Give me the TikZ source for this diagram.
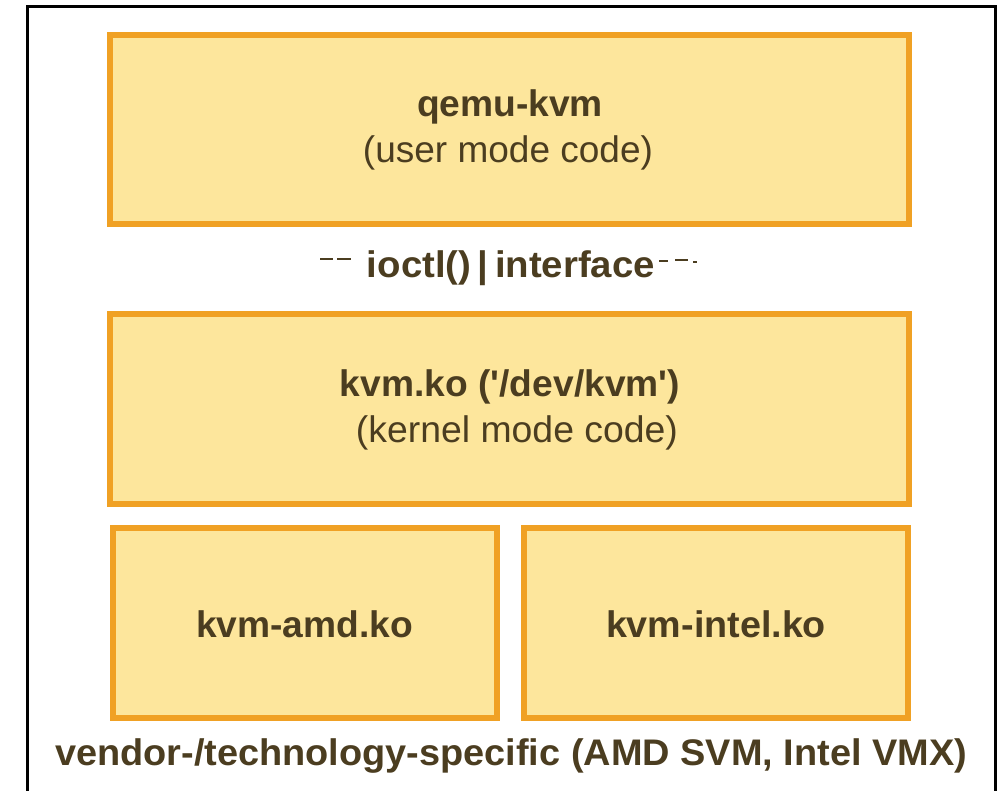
\documentclass[tikz,border=0pt]{standalone}
\usepackage{fontspec}
\setmainfont{Liberation Sans}
\usepackage{graphicx}
\definecolor{boxfill}{HTML}{FDE69C}
\definecolor{boxline}{HTML}{F0A124}
\definecolor{txt}{HTML}{4B3D20}
\begin{document}
\begin{tikzpicture}[x=1pt,y=-1pt,
  layerbox/.style={draw=boxline,fill=boxfill,line width=6pt},
  lbl/.style={anchor=base,inner sep=0pt,text=txt,font=\fontsize{37}{40}\selectfont},
  dashmark/.style={draw=txt,line width=2pt}]
\useasboundingbox (0,0) rectangle (1003,791);
% outer frame
\coordinate (fbl) at (27,791);
\coordinate (ftl) at (27,6.5);
\coordinate (ftr) at (995.5,6.5);
\coordinate (fbr) at (995.5,791);
\draw[line width=3pt,black] (fbl) -- (ftl) -- (ftr) -- (fbr);
% boxes
\draw[layerbox] (110,35) rectangle (909,224);
\draw[layerbox] (110,314) rectangle (909,504);
\draw[layerbox] (113,528) rectangle (496.5,718);
\draw[layerbox] (523.5,528) rectangle (908,718);
% texts
\node[lbl] (qemu) at (510,117) {\resizebox{186pt}{\height}{\bfseries qemu-kvm}};
\node[lbl] (qemusub) at (508,163) {\resizebox{290pt}{\height}{(user mode code)}};
\node[lbl] (ioctl) at (511,278) {\resizebox{288pt}{\height}{\bfseries ioctl()\,|\,interface}};
\node[lbl] (kvmko) at (510,396) {\resizebox{340pt}{\height}{\bfseries kvm.ko (\textquotesingle/dev/kvm\textquotesingle)}};
\node[lbl] (kvmsub) at (517,442) {\resizebox{322pt}{\height}{(kernel mode code)}};
\node[lbl] (amd) at (304.5,637) {\resizebox{217pt}{\height}{\bfseries kvm-amd.ko}};
\node[lbl] (intel) at (716,637) {\resizebox{220pt}{\height}{\bfseries kvm-intel.ko}};
\node[lbl] (vendor) at (511,765) {\resizebox{912pt}{\height}{\bfseries vendor-/technology-specific (AMD SVM, Intel VMX)}};
% dash remnants around the interface label
\coordinate (d1a) at (320,259); \coordinate (d1b) at (333,259);
\coordinate (d2a) at (337,259); \coordinate (d2b) at (351,259);
\coordinate (d3a) at (659,261); \coordinate (d3b) at (668,261);
\coordinate (d4a) at (675,260); \coordinate (d4b) at (688,260);
\coordinate (d5a) at (693,262); \coordinate (d5b) at (697,262);
\draw[dashmark] (d1a) -- (d1b);
\draw[dashmark] (d2a) -- (d2b);
\draw[dashmark] (d3a) -- (d3b);
\draw[dashmark] (d4a) -- (d4b);
\draw[dashmark] (d5a) -- (d5b);
\end{tikzpicture}
\end{document}
